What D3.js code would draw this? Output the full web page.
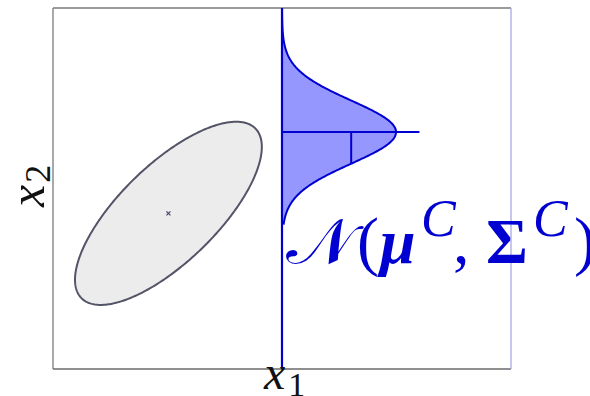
<!DOCTYPE html>
<html>
<head>
<meta charset="utf-8">
<script src="https://cdn.jsdelivr.net/npm/d3@7"></script>
<style>
  html, body { margin: 0; padding: 0; background: #fff; }
  svg { display: block; }
</style>
</head>
<body>
<svg id="chart" width="590" height="396"></svg>
<script>
// Feature-space extent
const x1Domain = [0, 10];
const x2Domain = [0, 8];

// Class-conditional Gaussian for cluster C
const clusterMean = [2.52, 3.45];
const clusterCov = [[1.04, 0.75], [0.75, 1.03]];
const contourSigma = 2;

// One-dimensional slice of the density along x2 at a fixed x1
const sliceX1 = 5;
const marginalMean = 5.25;
const marginalSd = 0.7;
const marginalPeak = 2.49;
const marginalRange = [3.2, 8];
const meanLineEnd = 8;

// Labels
const axisLabels = { x1: ["x", "1"], x2: ["x", "2"] };
const densityLabel = ["𝒩", "(", "μ", "C", ",", "Σ", "C", ")"];

const svg = d3.select("#chart");
const plot = { left: 53, right: 511, top: 8, bottom: 369 };

const x = d3.scaleLinear().domain(x1Domain).range([plot.left, plot.right]);
const y = d3.scaleLinear().domain(x2Domain).range([plot.bottom, plot.top]);

const blue = "#0000d0";

svg.append("defs").append("clipPath").attr("id", "plotClip")
  .append("rect")
  .attr("x", x(x1Domain[0])).attr("y", y(x2Domain[1]))
  .attr("width", x(x1Domain[1]) - x(x1Domain[0]))
  .attr("height", y(x2Domain[0]) - y(x2Domain[1]));

// Frame
const frame = svg.append("g").attr("fill", "none").attr("stroke-width", 1.3);
frame.append("line").attr("x1", x(0)).attr("x2", x(10)).attr("y1", y(8)).attr("y2", y(8)).attr("stroke", "#7a7a7a");
frame.append("line").attr("x1", x(0)).attr("x2", x(10)).attr("y1", y(0)).attr("y2", y(0)).attr("stroke", "#6a6a6a");
frame.append("line").attr("x1", x(0)).attr("x2", x(0)).attr("y1", y(0)).attr("y2", y(8)).attr("stroke", "#7a7a7a");
frame.append("line").attr("x1", x(10)).attr("x2", x(10)).attr("y1", y(0)).attr("y2", y(8)).attr("stroke", "#a8a8e6");

// Covariance ellipse via Cholesky factor
const l11 = Math.sqrt(clusterCov[0][0]);
const l21 = clusterCov[1][0] / l11;
const l22 = Math.sqrt(clusterCov[1][1] - l21 * l21);
const ellipsePts = d3.range(0, 360, 1).map(deg => {
  const t = deg * Math.PI / 180;
  const u = contourSigma * Math.cos(t), v = contourSigma * Math.sin(t);
  return [clusterMean[0] + l11 * u, clusterMean[1] + l21 * u + l22 * v];
});
svg.append("path")
  .datum(ellipsePts)
  .attr("d", d3.line().x(d => x(d[0])).y(d => y(d[1])).curve(d3.curveLinearClosed))
  .attr("fill", "#ececec")
  .attr("stroke", "#545468")
  .attr("stroke-width", 2);

// Mean marker
const mx = x(clusterMean[0]), my = y(clusterMean[1]);
svg.append("path")
  .attr("d", `M${mx - 2},${my - 2}L${mx + 2},${my + 2}M${mx - 2},${my + 2}L${mx + 2},${my - 2}`)
  .attr("stroke", "#44446a").attr("stroke-width", 1.2);

// Density slice
const density = v => marginalPeak * Math.exp(-0.5 * Math.pow((v - marginalMean) / marginalSd, 2));
const sliceY = d3.range(marginalRange[0], marginalRange[1] + 1e-9, 0.02);
const g = svg.append("g").attr("clip-path", "url(#plotClip)");

g.append("path")
  .datum(sliceY)
  .attr("d", d3.area().y(v => y(v)).x0(x(sliceX1)).x1(v => x(sliceX1 + density(v))))
  .attr("fill", "#9696ff");

g.append("path")
  .datum(sliceY)
  .attr("d", d3.line().y(v => y(v)).x(v => x(sliceX1 + density(v))))
  .attr("fill", "none").attr("stroke", blue).attr("stroke-width", 2);

// Mean and one-sd markers
g.append("line")
  .attr("x1", x(sliceX1)).attr("x2", x(meanLineEnd))
  .attr("y1", y(marginalMean)).attr("y2", y(marginalMean))
  .attr("stroke", blue).attr("stroke-width", 2);
const sdX = sliceX1 + density(marginalMean - marginalSd);
g.append("line")
  .attr("x1", x(sdX)).attr("x2", x(sdX))
  .attr("y1", y(marginalMean)).attr("y2", y(marginalMean - marginalSd))
  .attr("stroke", blue).attr("stroke-width", 2);

// Slice line
svg.append("line")
  .attr("x1", x(sliceX1)).attr("x2", x(sliceX1))
  .attr("y1", y(x2Domain[1])).attr("y2", y(x2Domain[0]))
  .attr("stroke", blue).attr("stroke-width", 2.2);

// Axis labels
const serif = "'Liberation Serif', 'DejaVu Serif', serif";
const xl = svg.append("text")
  .attr("x", 264).attr("y", 389)
  .attr("font-family", serif).attr("font-size", 48).attr("fill", "#111");
xl.append("tspan").attr("font-style", "italic").text(axisLabels.x1[0]);
xl.append("tspan").attr("font-size", 34).attr("dy", 7).attr("dx", 3).text(axisLabels.x1[1]);

const yl = svg.append("text")
  .attr("transform", "translate(44,207) rotate(-90)")
  .attr("font-family", serif).attr("font-size", 50).attr("fill", "#111");
yl.append("tspan").attr("font-style", "italic").text(axisLabels.x2[0]);
yl.append("tspan").attr("font-size", 36).attr("dy", 6).attr("dx", 2).text(axisLabels.x2[1]);

// Density label
const lab = svg.append("g").attr("fill", blue).attr("font-family", serif);
const base = 263;
lab.append("text").attr("x", 286).attr("y", base).attr("font-size", 62)
  .attr("textLength", 68).attr("lengthAdjust", "spacingAndGlyphs").text(densityLabel[0]);
lab.append("text").attr("x", 357).attr("y", base).attr("font-size", 66).text(densityLabel[1]);
lab.append("text").attr("x", 380).attr("y", base).attr("font-size", 64).attr("font-style", "italic").attr("font-weight", "bold").text(densityLabel[2]);
lab.append("text").attr("x", 421).attr("y", 236).attr("font-size", 52).attr("font-style", "italic").text(densityLabel[3]);
lab.append("text").attr("x", 453).attr("y", base).attr("font-size", 66).text(densityLabel[4]);
lab.append("text").attr("x", 486).attr("y", base).attr("font-size", 64).attr("font-weight", "bold").text(densityLabel[5]);
lab.append("text").attr("x", 533).attr("y", 236).attr("font-size", 52).attr("font-style", "italic").text(densityLabel[6]);
lab.append("text").attr("x", 574).attr("y", base).attr("font-size", 66).text(densityLabel[7]);
</script>
</body>
</html>
